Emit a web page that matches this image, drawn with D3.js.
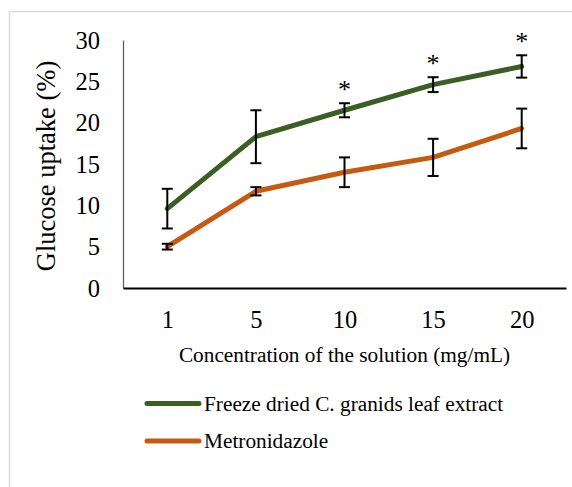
<!DOCTYPE html>
<html>
<head>
<meta charset="utf-8">
<script src="https://cdn.jsdelivr.net/npm/d3@7/dist/d3.min.js"></script>
<style>
  html, body { margin: 0; padding: 0; background: #fff; }
  svg { display: block; font-family: "Liberation Serif", "Times New Roman", serif; }
</style>
</head>
<body>
<svg id="chart" width="572" height="487"></svg>
<script>
// ---- data ----
const categories = ["1", "5", "10", "15", "20"];
const extractValues = [9.6, 18.3, 21.5, 24.6, 26.8];
const extractErrors = [2.4, 3.2, 0.85, 0.9, 1.35];
const metroValues = [5.0, 11.7, 14.0, 15.8, 19.3];
const metroErrors = [0.35, 0.5, 1.8, 2.25, 2.4];
const significant = [false, false, true, true, true];
const yTicks = [0, 5, 10, 15, 20, 25, 30];
const seriesNames = ["Freeze dried C. granids leaf extract", "Metronidazole"];
const seriesColors = ["#3b5e23", "#c55a11"];

const svg = d3.select("#chart");

// outer frame (only top/left visible)
svg.append("line").attr("x1", 9.5).attr("x2", 572).attr("y1", 11.5).attr("y2", 11.5)
  .attr("stroke", "#d9d9d9").attr("stroke-width", 1.5);
svg.append("line").attr("x1", 9.5).attr("x2", 9.5).attr("y1", 11.5).attr("y2", 487)
  .attr("stroke", "#d9d9d9").attr("stroke-width", 1.5);

const x = d3.scalePoint().domain(categories).range([123, 566]).padding(0.5);
const y = d3.scaleLinear().domain([0, 30]).range([288, 40]);

// axes
const yAxis = svg.append("g").attr("transform", "translate(123,0)")
  .call(d3.axisLeft(y).tickValues(yTicks).tickSize(0).tickPadding(23));
yAxis.select(".domain").attr("stroke", "#595959").attr("stroke-width", 1.2);
yAxis.selectAll("text").attr("font-size", 24.5).attr("fill", "#000")
  .attr("font-family", "Liberation Serif").attr("dy", "0.33em");

const xAxis = svg.append("g").attr("transform", "translate(0,288)")
  .call(d3.axisBottom(x).tickSize(0).tickPadding(22.6));
xAxis.select(".domain").attr("stroke", "#000").attr("stroke-width", 2.2);
xAxis.selectAll("text").attr("font-size", 24.5).attr("fill", "#000")
  .attr("font-family", "Liberation Serif");

// axis titles
svg.append("text").attr("transform", "translate(55,166) rotate(-90)")
  .attr("text-anchor", "middle").attr("font-size", 26.5).attr("fill", "#000")
  .text("Glucose uptake (%)");
svg.append("text").attr("x", 344.5).attr("y", 362)
  .attr("text-anchor", "middle").attr("font-size", 21.3).attr("fill", "#000")
  .text("Concentration of the solution (mg/mL)");

// series
const series = [
  { name: seriesNames[0], color: seriesColors[0], values: extractValues, errors: extractErrors },
  { name: seriesNames[1], color: seriesColors[1], values: metroValues, errors: metroErrors }
];

const line = d3.line().x(d => x(d.c)).y(d => y(d.v));

series.slice().reverse().forEach(s => {
  const pts = categories.map((c, i) => ({ c, v: s.values[i], e: s.errors[i] }));
  svg.append("path").datum(pts).attr("d", line)
    .attr("fill", "none").attr("stroke", s.color).attr("stroke-width", 5)
    .attr("stroke-linejoin", "round").attr("stroke-linecap", "round");
});

series.forEach(s => {
  const pts = categories.map((c, i) => ({ c, v: s.values[i], e: s.errors[i] }));
  const g = svg.append("g").attr("stroke", "#000").attr("stroke-width", 2);
  pts.forEach(p => {
    const cx = x(p.c), y1 = y(p.v + p.e), y2 = y(p.v - p.e);
    g.append("line").attr("x1", cx).attr("x2", cx).attr("y1", y1).attr("y2", y2);
    g.append("line").attr("x1", cx - 5.5).attr("x2", cx + 5.5).attr("y1", y1).attr("y2", y1);
    g.append("line").attr("x1", cx - 5.5).attr("x2", cx + 5.5).attr("y1", y2).attr("y2", y2);
  });
});

// significance asterisks
categories.forEach((c, i) => {
  if (!significant[i]) return;
  svg.append("text").attr("x", x(c)).attr("y", y(extractValues[i] + extractErrors[i]) - 5)
    .attr("text-anchor", "middle").attr("font-size", 26).attr("fill", "#000").text("*");
});

// legend
series.forEach((s, i) => {
  const ly = 403.5 + i * 37.5;
  svg.append("line").attr("x1", 147).attr("x2", 199).attr("y1", ly).attr("y2", ly)
    .attr("stroke", s.color).attr("stroke-width", 5).attr("stroke-linecap", "round");
  svg.append("text").attr("x", 204).attr("y", ly).attr("dy", "0.35em")
    .attr("font-size", 21.3).attr("fill", "#000").text(s.name);
});
</script>
</body>
</html>
